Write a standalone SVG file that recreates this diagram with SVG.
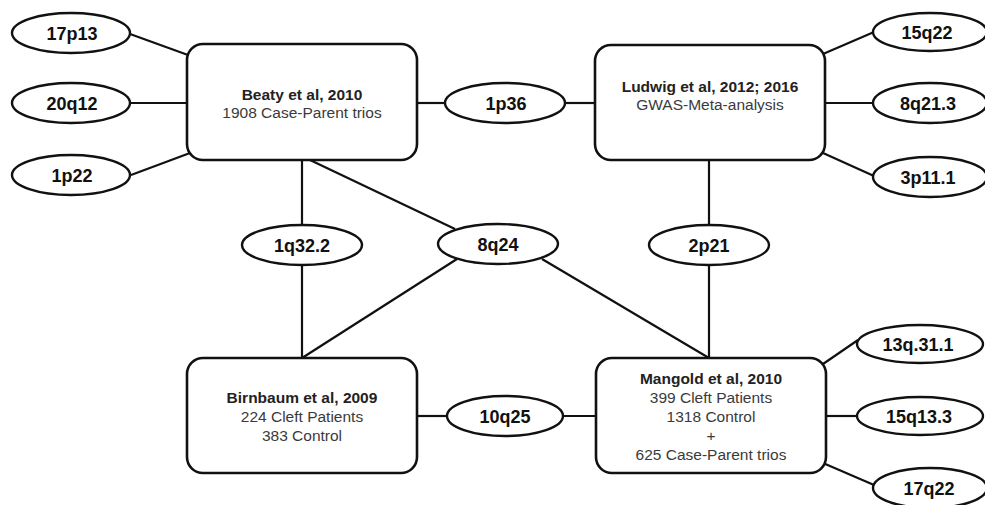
<svg xmlns="http://www.w3.org/2000/svg" width="985" height="505" viewBox="0 0 985 505">
<style>
.box{fill:#fff;stroke:#111;stroke-width:2.6}
.ell{fill:#fff;stroke:#111;stroke-width:2.4}
.con line{stroke:#111;stroke-width:2.2}
.t{font-family:"Liberation Sans",Arial,sans-serif;text-anchor:middle}
.tb{font-size:15.5px;font-weight:bold;fill:#222}
.tr{font-size:15.5px;fill:#3a3a3a}
.el{font-size:18px;font-weight:bold;fill:#111}
</style>
<rect width="985" height="505" fill="#fff"/>
<g class="con" id="connectors">
<line x1="130" y1="34" x2="188" y2="55"/>
<line x1="130" y1="103" x2="188" y2="103"/>
<line x1="131" y1="175" x2="190" y2="153"/>
<line x1="416" y1="103" x2="445" y2="103"/>
<line x1="565" y1="103" x2="596" y2="103"/>
<line x1="823" y1="54" x2="874" y2="32"/>
<line x1="825" y1="103" x2="873" y2="103"/>
<line x1="823" y1="153" x2="874" y2="176"/>
<line x1="302" y1="160" x2="302" y2="226"/>
<line x1="302" y1="265" x2="302" y2="358"/>
<line x1="310" y1="160" x2="455" y2="229"/>
<line x1="457" y1="259" x2="302" y2="358"/>
<line x1="542" y1="259" x2="709" y2="358"/>
<line x1="709" y1="160" x2="709" y2="226"/>
<line x1="709" y1="265" x2="709" y2="358"/>
<line x1="416" y1="416" x2="447" y2="416"/>
<line x1="563" y1="416" x2="596" y2="416"/>
<line x1="823" y1="364" x2="858" y2="340"/>
<line x1="826" y1="416" x2="857" y2="416"/>
<line x1="823" y1="463" x2="874" y2="485"/>
</g>
<g id="beaty">
<rect class="box" x="187" y="44" width="230" height="116" rx="16"/>
<text class="t tb" x="302" y="100">Beaty et al, 2010</text>
<text class="t tr" x="302" y="118">1908 Case-Parent trios</text>
</g>
<g id="ludwig">
<rect class="box" x="595" y="45" width="230" height="115" rx="16"/>
<text class="t tb" x="710" y="92">Ludwig et al, 2012; 2016</text>
<text class="t tr" x="710" y="110">GWAS-Meta-analysis</text>
</g>
<g id="birnbaum">
<rect class="box" x="187" y="358" width="230" height="115" rx="16"/>
<text class="t tb" x="302" y="403">Birnbaum et al, 2009</text>
<text class="t tr" x="302" y="422">224 Cleft Patients</text>
<text class="t tr" x="302" y="441">383 Control</text>
</g>
<g id="mangold">
<rect class="box" x="596" y="358" width="230" height="115" rx="16"/>
<text class="t tb" x="711" y="384">Mangold et al, 2010</text>
<text class="t tr" x="711" y="403">399 Cleft Patients</text>
<text class="t tr" x="711" y="422">1318 Control</text>
<text class="t tr" x="711" y="441">+</text>
<text class="t tr" x="711" y="460">625 Case-Parent trios</text>
</g>
<g id="n17p13"><ellipse class="ell" cx="71" cy="33" rx="59" ry="20"/><text class="t el" x="72" y="40">17p13</text></g>
<g id="n20q12"><ellipse class="ell" cx="71" cy="103" rx="59" ry="20"/><text class="t el" x="72" y="110">20q12</text></g>
<g id="n1p22"><ellipse class="ell" cx="71" cy="175" rx="59" ry="20"/><text class="t el" x="72" y="182">1p22</text></g>
<g id="n1p36"><ellipse class="ell" cx="505" cy="103" rx="60" ry="20"/><text class="t el" x="506" y="110">1p36</text></g>
<g id="n15q22"><ellipse class="ell" cx="930" cy="32" rx="57" ry="19"/><text class="t el" x="927" y="39">15q22</text></g>
<g id="n8q21_3"><ellipse class="ell" cx="930" cy="103" rx="57" ry="20"/><text class="t el" x="928" y="110">8q21.3</text></g>
<g id="n3p11_1"><ellipse class="ell" cx="930" cy="177" rx="57" ry="20"/><text class="t el" x="928" y="184">3p11.1</text></g>
<g id="n1q32_2"><ellipse class="ell" cx="302" cy="245" rx="60" ry="20"/><text class="t el" x="302" y="252">1q32.2</text></g>
<g id="n8q24"><ellipse class="ell" cx="498" cy="244" rx="60" ry="20"/><text class="t el" x="498" y="251">8q24</text></g>
<g id="n2p21"><ellipse class="ell" cx="709" cy="245" rx="60" ry="20"/><text class="t el" x="709" y="252">2p21</text></g>
<g id="n10q25"><ellipse class="ell" cx="505" cy="416" rx="58" ry="20"/><text class="t el" x="505" y="423">10q25</text></g>
<g id="n13q31_1"><ellipse class="ell" cx="920" cy="344" rx="63" ry="19"/><text class="t el" x="918" y="351">13q.31.1</text></g>
<g id="n15q13_3"><ellipse class="ell" cx="920" cy="416" rx="63" ry="19"/><text class="t el" x="919" y="423">15q13.3</text></g>
<g id="n17q22"><ellipse class="ell" cx="930" cy="488" rx="57" ry="20"/><text class="t el" x="929" y="495">17q22</text></g>
</svg>
